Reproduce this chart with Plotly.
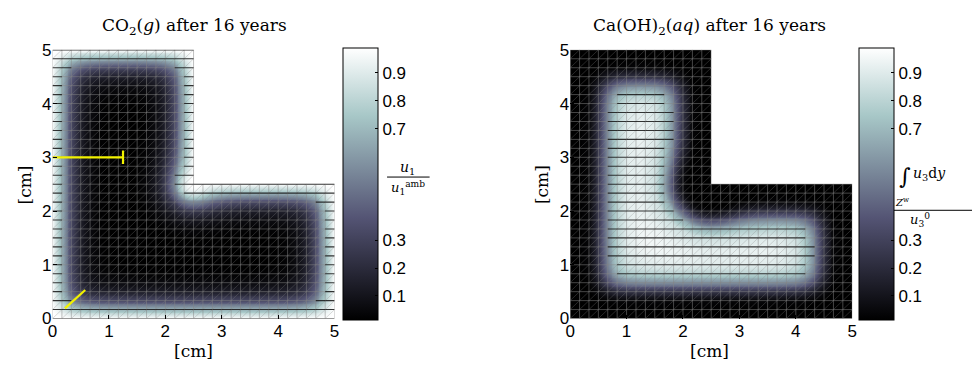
import numpy as np
import plotly.graph_objects as go

# ---------------- data ----------------
DOMAIN_LEN = 5.0
ARM = 2.5
N_CELLS = 30  # mesh cells per side

# 1-D profiles: value versus distance from the boundary edge [cm]
CO2_DIST = [0.0, 1/6, 2/6, 3/6, 4/6, 5/6, 1.0, 1.5, 10.0]
CO2_VAL = [0.99, 0.68, 0.33, 0.14, 0.06, 0.025, 0.01, 0.0, 0.0]

CA_DIST = [0.0, 1/6, 2/6, 3/6, 4/6, 5/6, 1.0, 1.25, 1.5, 10.0]
CA_VAL = [0.015, 0.015, 0.04, 0.24, 0.58, 0.82, 0.93, 0.97, 0.985, 0.99]

CBAR_TICKS = [0.1, 0.2, 0.3, 0.7, 0.8, 0.9]
AXIS_TICKS = [0, 1, 2, 3, 4, 5]
C_MIN, C_MAX = 0.015, 0.99

# yellow probe markers on the CO2 panel
PROBE_H_X = [0.0, 1.25]
PROBE_H_Y = [3.0, 3.0]
PROBE_CAP_X = [1.25, 1.25]
PROBE_CAP_Y = [2.875, 3.125]
PROBE_D_X = [0.22, 0.58]
PROBE_D_Y = [0.19, 0.53]

# --------------- field construction ---------------
EDGES = [((0, 0), (5, 0)), ((5, 0), (5, 2.5)), ((5, 2.5), (2.5, 2.5)),
         ((2.5, 2.5), (2.5, 5)), ((2.5, 5), (0, 5)), ((0, 5), (0, 0))]


def seg_dist(px_, py_, a, b):
    ax, ay = a
    bx, by = b
    dx, dy = bx - ax, by - ay
    t = ((px_ - ax) * dx + (py_ - ay) * dy) / (dx * dx + dy * dy)
    t = np.clip(t, 0, 1)
    qx, qy = ax + t * dx, ay + t * dy
    return np.hypot(px_ - qx, py_ - qy)


def fields(Xp, Yp):
    Xp = np.asarray(Xp, float)
    Yp = np.asarray(Yp, float)
    p_co2 = np.ones_like(Xp)
    p_ca = np.ones_like(Xp)
    ca_max = max(CA_VAL)
    for a, b in EDGES:
        d = seg_dist(Xp, Yp, a, b)
        p_co2 *= (1 - np.interp(d, CO2_DIST, CO2_VAL))
        p_ca *= np.interp(d, CA_DIST, CA_VAL) / ca_max
    return (np.clip(1 - p_co2, C_MIN, C_MAX),
            np.clip(ca_max * p_ca, C_MIN, C_MAX))


NRES = 300
step = DOMAIN_LEN / NRES
cx = (np.arange(NRES) + 0.5) * step
X, Y = np.meshgrid(cx, cx)
inside = ~((X > ARM) & (Y > ARM))
Z_co2, Z_ca = fields(X, Y)
Z_co2 = np.where(inside, Z_co2, np.nan)
Z_ca = np.where(inside, Z_ca, np.nan)

# --------------- mesh lines ---------------
h = DOMAIN_LEN / N_CELLS

vx, vy, dgx, dgy = [], [], [], []
hseg = []  # horizontal per-cell segments (x0, x1, y)
for k in range(N_CELLS + 1):
    p = k * h
    top = DOMAIN_LEN if p <= ARM + 1e-9 else ARM
    vx += [p, p, None]
    vy += [0, top, None]
    for i in range(N_CELLS):
        x0 = i * h
        if not (x0 + h / 2 > ARM and p > ARM + 1e-9):
            hseg.append((x0, x0 + h, p))
for i in range(N_CELLS):
    for j in range(N_CELLS):
        x0, y0 = i * h, j * h
        if x0 >= ARM - 1e-9 and y0 >= ARM - 1e-9:
            continue
        dgx += [x0, x0 + h, None]
        dgy += [y0, y0 + h, None]

hmx = np.array([(s[0] + s[1]) / 2 for s in hseg])
hmy = np.array([s[2] for s in hseg])
hv_co2, hv_ca = fields(hmx, hmy)


def split_h(vals, thr=0.65):
    bxs, bys, dxs, dys = [], [], [], []
    for (x0, x1, y), v in zip(hseg, vals):
        if v > thr:
            bxs += [x0, x1, None]
            bys += [y, y, None]
        else:
            dxs += [x0, x1, None]
            dys += [y, y, None]
    return (bxs, bys), (dxs, dys)


# MATLAB "bone" colormap
BONE = [[0.0, "rgb(0,0,0)"], [0.375, "rgb(84,84,116)"],
        [0.75, "rgb(167,199,199)"], [1.0, "rgb(255,255,255)"]]

W, H = 977, 376


def px(x):
    return x / W


def py(y):
    return 1 - y / H


sans = "Liberation Sans, Arial, sans-serif"
serif = "DejaVu Serif, serif"

fig = go.Figure()

panels = [
    dict(z=Z_co2, hv=hv_co2, xa="x", ya="y", cbx=341),
    dict(z=Z_ca, hv=hv_ca, xa="x2", ya="y2", cbx=863),
]
for p in panels:
    fig.add_trace(go.Heatmap(
        x=cx, y=cx, z=p["z"], colorscale=BONE, zmin=C_MIN, zmax=C_MAX,
        xaxis=p["xa"], yaxis=p["ya"], hoverinfo="skip",
        colorbar=dict(
            x=px(p["cbx"]), xanchor="left", y=py(184), yanchor="middle",
            len=286 / H, lenmode="fraction", thickness=35, thicknessmode="pixels",
            xpad=0, ypad=0, outlinecolor="black", outlinewidth=1,
            tickvals=CBAR_TICKS, ticks="inside", ticklen=3, tickcolor="black",
            tickfont=dict(family=sans, size=17, color="black"),
        ),
    ))
    fig.add_trace(go.Scatter(x=vx, y=vy, mode="lines", xaxis=p["xa"], yaxis=p["ya"],
                             line=dict(color="rgba(135,135,135,0.75)", width=0.7),
                             hoverinfo="skip", showlegend=False))
    fig.add_trace(go.Scatter(x=dgx, y=dgy, mode="lines", xaxis=p["xa"], yaxis=p["ya"],
                             line=dict(color="rgba(135,135,135,0.5)", width=0.6),
                             hoverinfo="skip", showlegend=False))
    (bx, by), (dx, dy) = split_h(p["hv"])
    fig.add_trace(go.Scatter(x=dx, y=dy, mode="lines", xaxis=p["xa"], yaxis=p["ya"],
                             line=dict(color="rgba(135,135,135,0.75)", width=0.7),
                             hoverinfo="skip", showlegend=False))
    fig.add_trace(go.Scatter(x=bx, y=by, mode="lines", xaxis=p["xa"], yaxis=p["ya"],
                             line=dict(color="rgba(30,30,30,0.9)", width=1.1),
                             hoverinfo="skip", showlegend=False))

for xs, ys in [(PROBE_H_X, PROBE_H_Y), (PROBE_CAP_X, PROBE_CAP_Y), (PROBE_D_X, PROBE_D_Y)]:
    fig.add_trace(go.Scatter(x=xs, y=ys, mode="lines", xaxis="x", yaxis="y",
                             line=dict(color="#f2f200", width=2.2),
                             hoverinfo="skip", showlegend=False))

tickfont = dict(family=sans, size=17, color="black")
axis_common = dict(range=[0, 5], tickvals=AXIS_TICKS, showgrid=False, zeroline=False,
                   showline=False, ticks="inside", ticklen=4, tickcolor="black",
                   tickfont=tickfont)

fig.update_layout(
    width=W, height=H, margin=dict(l=0, r=0, t=0, b=0),
    paper_bgcolor="white", plot_bgcolor="white", showlegend=False,
    xaxis=dict(domain=[px(48), px(333)], anchor="y", **axis_common),
    yaxis=dict(domain=[py(326), py(43)], anchor="x", **axis_common),
    xaxis2=dict(domain=[px(571), px(856)], anchor="y2", **axis_common),
    yaxis2=dict(domain=[py(326), py(43)], anchor="x2", **axis_common),
)

ann = []


def text(x, y, s, size=17, family=serif, angle=0):
    ann.append(dict(x=px(x), y=py(y), xref="paper", yref="paper", text=s,
                    showarrow=False, font=dict(family=family, size=size, color="black"),
                    xanchor="center", yanchor="middle", textangle=angle))


text(191, 18, "CO<sub>2</sub>(<i>g</i>) after 16 years", 17)
text(712, 18, "Ca(OH)<sub>2</sub>(<i>aq</i>) after 16 years", 17)
text(190, 360, "[cm]", 17)
text(712, 360, "[cm]", 17)
text(20, 185, "[cm]", 17, angle=-90)
text(542, 185, "[cm]", 17, angle=-90)

# colorbar label 1 : u1 / u1^amb
text(407, 167, "<i>u</i><sub>1</sub>", 14)
text(407, 189, "<i>u</i><sub>1</sub><sup>amb</sup>", 13)
# colorbar label 2 : (int_Zw u3 dy) / u3^0
text(909, 176, "∫", 22)
text(934, 174, "<i>u</i><sub>3</sub>d<i>y</i>", 14)
text(906, 203, "<i>Z</i><sup>w</sup>", 10)
text(924, 222, "<i>u</i><sub>3</sub><sup>0</sup>", 13)

fig.update_layout(annotations=ann)
fig.add_shape(type="line", xref="paper", yref="paper", x0=px(386), x1=px(429),
              y0=py(177), y1=py(177), line=dict(color="black", width=1))
fig.add_shape(type="line", xref="paper", yref="paper", x0=px(898), x1=px(977),
              y0=py(212), y1=py(212), line=dict(color="black", width=1))

fig.write_html("out.html")
